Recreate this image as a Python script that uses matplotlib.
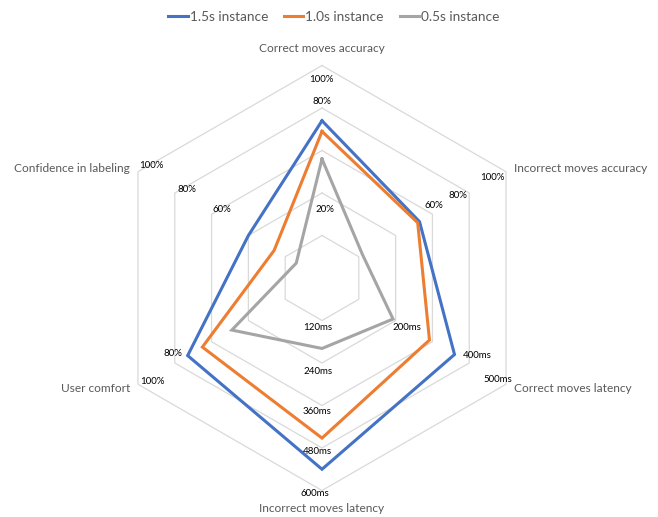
import numpy as np
import matplotlib
matplotlib.use("Agg")
import matplotlib.pyplot as plt
from matplotlib.lines import Line2D


# axes of the radar, clockwise from the top
categories = [
    "Correct moves accuracy",
    "Incorrect moves accuracy",
    "Correct moves latency",
    "Incorrect moves latency",
    "User comfort",
    "Confidence in labeling",
]
# full scale of every axis (percent or ms)
axis_max = [100, 100, 500, 600, 100, 100]

series_names = ["1.5s instance", "1.0s instance", "0.5s instance"]
values_15s = [74, 53, 360, 540, 73, 40]
values_10s = [69, 52, 292, 452, 65, 26]
values_05s = [56, 22, 193, 199, 49, 14]

# ring labels written next to each axis: (axis index, text)
tick_labels = [
    (0, "100%"), (0, "80%"), (0, "20%"),
    (1, "60%"), (1, "80%"), (1, "100%"),
    (2, "200ms"), (2, "400ms"), (2, "500ms"),
    (3, "120ms"), (3, "240ms"), (3, "360ms"), (3, "480ms"), (3, "600ms"),
    (4, "80%"), (4, "100%"),
    (5, "60%"), (5, "80%"), (5, "100%"),
]

# layout (pixel coordinates of the 658x517 canvas)
CENTER = (322, 278)
RADIUS = 212.5
N_RINGS = 5
TICK_POS = [
    (321, 79), (322, 102), (325, 210),
    (434, 206), (458, 196), (492, 178),
    (407, 327), (477, 356), (498, 380),
    (318, 327), (318, 371), (317, 412), (317, 451), (315, 493),
    (173, 353), (152, 381),
    (222, 209), (187, 189), (151, 165),
]
CAT_POS = [
    (322, 48, "center"),
    (514, 168, "left"),
    (514, 389, "left"),
    (322, 508, "center"),
    (130, 389, "right"),
    (130, 168, "right"),
]
COLORS = ["#4472C4", "#ED7D31", "#A5A5A5"]

plt.rcParams["font.family"] = ["Lato", "DejaVu Sans"]

angles = np.deg2rad(90 - 60 * np.arange(len(categories)))
dx, dy = np.cos(angles), -np.sin(angles)


def to_xy(fractions):
    r = np.asarray(fractions) * RADIUS
    x = CENTER[0] + r * dx
    y = CENTER[1] + r * dy
    return np.append(x, x[0]), np.append(y, y[0])


fig = plt.figure(figsize=(6.58, 5.17), dpi=100)
ax = fig.add_axes([0, 0, 1, 1])
ax.set_xlim(0, 658)
ax.set_ylim(517, 0)
ax.axis("off")

# hexagonal grid
for k in range(1, N_RINGS + 1):
    gx, gy = to_xy(np.full(len(categories), k / N_RINGS))
    ax.plot(gx, gy, color="#D9D9D9", lw=0.9, zorder=1)

for name, vals, color in zip(series_names, [values_15s, values_10s, values_05s], COLORS):
    frac = np.array(vals) / np.array(axis_max)
    sx, sy = to_xy(frac)
    ax.plot(sx, sy, color=color, lw=2.2, solid_joinstyle="miter", zorder=3, label=name)

for (idx, text), (px, py) in zip(tick_labels, TICK_POS):
    ax.text(px, py, text, fontsize=7, color="#000000", ha="center", va="center", zorder=4)

for cat, (px, py, ha) in zip(categories, CAT_POS):
    ax.text(px, py, cat, fontsize=8.6, color="#595959", ha=ha, va="center")

handles = [Line2D([], [], color=c, lw=2.2) for c in COLORS]
fig.legend(handles, series_names, loc="center", bbox_to_anchor=(334 / 658, 1 - 17 / 517),
           ncol=3, frameon=False, fontsize=9.8, handlelength=1.4, handletextpad=0.15,
           columnspacing=1.2, labelcolor="#595959")

fig.savefig("out.png", dpi=100)
